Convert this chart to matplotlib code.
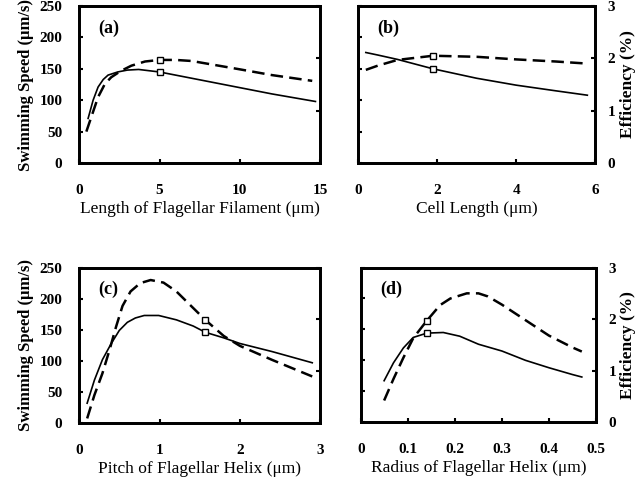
import numpy as np
import matplotlib
matplotlib.use('Agg')
import matplotlib.pyplot as plt

plt.rcParams['font.family'] = ['Liberation Serif', 'DejaVu Serif']

# (a) length of flagellar filament
a_x_speed = [0.56, 0.87, 1.18, 1.5, 1.8, 2.4, 3.0, 3.7, 5.0, 6.0, 7.0, 9.0, 10.0, 12.0, 14.7]
a_speed = [71, 100, 121, 133, 140, 145, 148, 149, 145, 140, 135, 125, 120, 110, 98]
a_x_eff = [0.45, 0.77, 1.18, 1.6, 2.0, 2.6, 3.25, 4.1, 5.0, 6.0, 7.0, 8.5, 10.0, 12.0, 14.5]
a_eff = [0.60, 0.89, 1.26, 1.51, 1.64, 1.76, 1.86, 1.94, 1.97, 1.97, 1.95, 1.87, 1.79, 1.68, 1.57]
a_mark = 5.0

# (b) cell length
b_x = [0.2, 0.5, 1.0, 1.9, 3.0, 4.0, 5.0, 5.8]
b_speed = [176, 172, 165, 150, 135, 124, 115, 108]
b_eff = [1.78, 1.86, 1.97, 2.05, 2.03, 1.98, 1.94, 1.90]
b_mark = 1.9

# (c) pitch of flagellar helix
c_x_speed = [0.1, 0.19, 0.29, 0.4, 0.5, 0.6, 0.7, 0.81, 0.99, 1.21, 1.42, 1.57, 1.8, 2.0, 2.4, 2.9]
c_speed = [32, 69, 102, 128, 149, 162, 169, 173, 173, 166, 156, 146, 137, 128, 115, 97]
c_x_eff = [0.1, 0.19, 0.29, 0.38, 0.46, 0.54, 0.64, 0.76, 0.89, 1.05, 1.21, 1.38, 1.57, 1.8, 2.0, 2.4, 2.9]
c_eff = [0.09, 0.54, 0.96, 1.42, 1.86, 2.26, 2.54, 2.70, 2.76, 2.71, 2.54, 2.28, 1.99, 1.68, 1.49, 1.22, 0.90]
c_mark = 1.57

# (d) radius of flagellar helix
d_x_speed = [0.049, 0.069, 0.09, 0.111, 0.14, 0.175, 0.21, 0.25, 0.3, 0.35, 0.4, 0.45, 0.47]
d_speed = [67, 96, 120, 137, 144, 145, 139, 126, 115, 100, 88, 77, 73]
d_x_eff = [0.049, 0.069, 0.09, 0.111, 0.14, 0.168, 0.19, 0.225, 0.25, 0.27, 0.3, 0.35, 0.4, 0.45, 0.47]
d_eff = [0.42, 0.84, 1.25, 1.63, 1.97, 2.27, 2.40, 2.50, 2.50, 2.44, 2.28, 1.98, 1.68, 1.45, 1.37]
d_mark = 0.14

panels = [
    ('(a)', a_x_speed, a_speed, a_x_eff, a_eff, a_mark, [0, 15], [0, 5, 10, 15],
     'Length of Flagellar Filament (μm)', [0.124, 0.6625, 0.378, 0.325]),
    ('(b)', b_x, b_speed, b_x, b_eff, b_mark, [0, 6], [0, 2, 4, 6],
     'Cell Length (μm)', [0.561, 0.6625, 0.372, 0.325]),
    ('(c)', c_x_speed, c_speed, c_x_eff, c_eff, c_mark, [0, 3], [0, 1, 2, 3],
     'Pitch of Flagellar Helix (μm)', [0.124, 0.124, 0.378, 0.322]),
    ('(d)', d_x_speed, d_speed, d_x_eff, d_eff, d_mark, [0, 0.5], [0, 0.1, 0.2, 0.3, 0.4, 0.5],
     'Radius of Flagellar Helix (μm)', [0.566, 0.126, 0.368, 0.32]),
]

fig = plt.figure(figsize=(6.38, 4.83), dpi=100)

for i, (tag, xs, sp, xe, ef, mk, xlim, xt, xlabel, pos) in enumerate(panels):
    ax = fig.add_axes(pos)
    ax2 = ax.twinx()
    ax.plot(xs, sp, color='black', lw=1.2)
    ax2.plot(xe, ef, color='black', lw=1.8, dashes=(5, 2.5))
    ax.plot([mk], [np.interp(mk, xs, sp)], 's', color='black', mfc='white', ms=4, mew=1)
    ax2.plot([mk], [np.interp(mk, xe, ef)], 's', color='black', mfc='white', ms=4, mew=1)
    ax.set_xlim(xlim)
    ax.set_ylim(0, 250)
    ax2.set_ylim(0, 3)
    ax.set_xticks(xt)
    ax.set_xticklabels([('%g' % v) for v in xt], fontsize=11, fontweight='bold')
    ax.set_yticks([0, 50, 100, 150, 200, 250])
    ax2.set_yticks([0, 1, 2, 3])
    ax.tick_params(axis='x', direction='in', length=3, width=1.5, pad=15)
    ax.tick_params(axis='y', direction='in', length=3, width=1.5, pad=12)
    ax2.tick_params(axis='y', direction='in', length=3, width=1.5, pad=9)
    for s in ax.spines.values():
        s.set_linewidth(2)
    for s in ax2.spines.values():
        s.set_linewidth(2)
    ax.set_xlabel(xlabel, fontsize=12.5, labelpad=3)
    if i % 2 == 0:
        ax.set_yticklabels(['0', '50', '100', '150', '200', '250'], fontsize=11, fontweight='bold')
        ax.set_ylabel('Swimming Speed (μm/s)', fontsize=12, fontweight='bold', labelpad=4)
        ax2.set_yticklabels([])
    else:
        ax.set_yticklabels([])
        ax2.set_yticklabels(['0', '1', '2', '3'], fontsize=11, fontweight='bold')
        ax2.set_ylabel('Efficiency (%)', fontsize=12.5, fontweight='bold', labelpad=3)
    ax.text(0.08, 0.86, tag, transform=ax.transAxes, fontsize=13, fontweight='bold',
            va='center', ha='left')

fig.savefig('out.png', dpi=100)
